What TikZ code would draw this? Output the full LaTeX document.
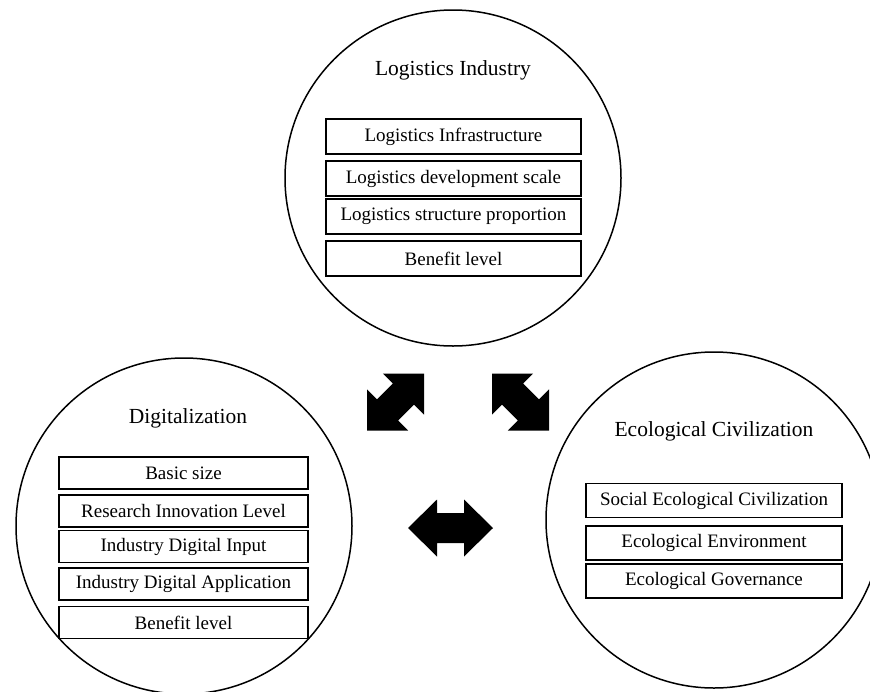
\documentclass[tikz,border=0pt]{standalone}
\usepackage{fontspec}
\setmainfont{Liberation Serif}
\begin{document}
\begin{tikzpicture}[x=1pt,y=-1pt,
  ring/.style={draw=black,line width=1.5pt,circle,minimum size=336pt,inner sep=0pt},
  itembox/.style={draw=black,line width=1.8pt,rectangle,inner sep=0pt,font=\fontsize{19}{22}\selectfont},
  ttl/.style={anchor=base,inner sep=0pt,font=\fontsize{21.5}{25}\selectfont},
  bigarrow/.style={fill=black,draw=none}]
\useasboundingbox (0,0) rectangle (870,691);
\clip (0,0) rectangle (870,691);
% circles
\node[ring] (logc) at (453,178) {};
\node[ring] (digc) at (184,526) {};
\node[ring] (ecoc) at (714,520) {};
% titles
\node[ttl] (logt) at (453,75) {Logistics Industry};
\node[ttl] (digt) at (188,423) {Digitalization};
\node[ttl] (ecot) at (714,436) {Ecological Civilization};
% logistics boxes
\begin{scope}[itembox/.append style={minimum width=255pt,minimum height=35pt}]
\node[itembox] (l1) at (453.5,136.5) {Logistics Infrastructure};
\node[itembox] (l2) at (453.5,178.5) {Logistics development scale};
\node[itembox] (l3) at (453.5,216.5) {Logistics structure proportion};
\node[itembox] (l4) at (453.5,258.5) {Benefit level};
\end{scope}
% digitalization boxes
\begin{scope}[itembox/.append style={minimum width=249pt,minimum height=32pt}]
\node[itembox] (d1) at (183.5,473) {Basic size};
\node[itembox] (d2) at (183.5,511) {Research Innovation Level};
\node[itembox] (d3) at (183.5,546.5) {Industry Digital Input};
\node[itembox] (d4) at (183.5,584) {Industry Digital Application};
\node[itembox] (d5) at (183.5,622.5) {Benefit level};
\end{scope}
% ecological boxes
\begin{scope}[itembox/.append style={minimum width=256pt,minimum height=34pt}]
\node[itembox] (e1) at (714,500.5) {Social Ecological Civilization};
\node[itembox] (e2) at (714,543) {Ecological Environment};
\node[itembox] (e3) at (714,581) {Ecological Governance};
\end{scope}
% double arrows
\begin{scope}[shift={(395.5,402)},rotate=45]
\fill[bigarrow] (-40.3,0) -- (-11.3,29) -- (-11.3,15) -- (11.3,15) -- (11.3,29) -- (40.3,0)
  -- (11.3,-29) -- (11.3,-15) -- (-11.3,-15) -- (-11.3,-29) -- cycle;
\end{scope}
\begin{scope}[shift={(520.5,402)},rotate=-45]
\fill[bigarrow] (-40.3,0) -- (-11.3,29) -- (-11.3,15) -- (11.3,15) -- (11.3,29) -- (40.3,0)
  -- (11.3,-29) -- (11.3,-15) -- (-11.3,-15) -- (-11.3,-29) -- cycle;
\end{scope}
\begin{scope}[shift={(450.5,528)}]
\fill[bigarrow] (-42.5,0) -- (-13.5,28.5) -- (-13.5,15) -- (13.5,15) -- (13.5,28.5) -- (42.5,0)
  -- (13.5,-28.5) -- (13.5,-15) -- (-13.5,-15) -- (-13.5,-28.5) -- cycle;
\end{scope}
\end{tikzpicture}
\end{document}
